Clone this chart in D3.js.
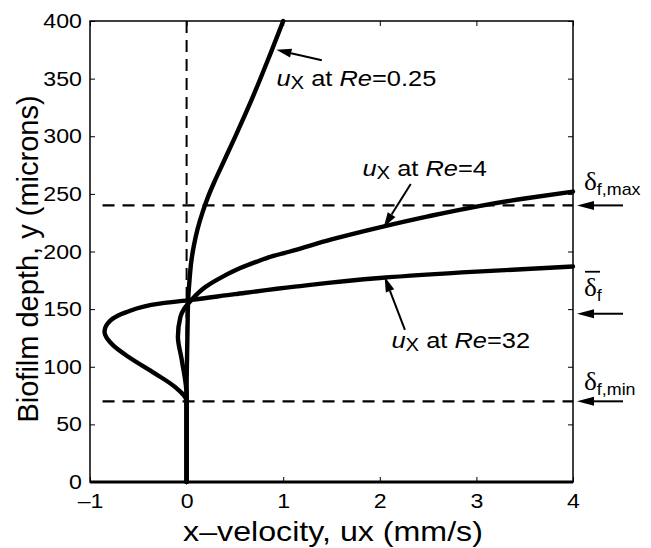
<!DOCTYPE html>
<html>
<head>
<meta charset="utf-8">
<script src="https://cdn.jsdelivr.net/npm/d3@7"></script>
<style>
  html, body { margin: 0; padding: 0; background: #fff; }
  svg { display: block; }
  text { font-family: "Liberation Sans", Arial, Helvetica, sans-serif; fill: #000; }
</style>
</head>
<body>
<svg id="chart" width="651" height="548"></svg>
<script>
// Velocity profiles through the biofilm: [x-velocity (mm/s), depth (microns)], ordered by depth
const profileRe025 = [[0,0],[0,40],[0,80],[0.005,110],[0.01,135],[0.015,156],[0.03,175],[0.048,191],[0.075,205],[0.115,220],[0.165,234],[0.22,247],[0.28,259],[0.34,270],[0.50,299],[0.68,333],[0.86,370],[1.0,400]];
const profileRe4 = [[0,0],[0,40],[0,75],[-0.05,106],[-0.09,126],[-0.065,143],[-0.02,151],[0.05,158],[0.2,169.5],[0.37,178],[0.55,185.4],[0.72,191],[0.89,196],[1.07,200],[1.5,210.5],[2.0,221],[2.5,230.5],[3.0,239],[3.5,246],[4.0,252]];
const profileRe32 = [[0,0],[0,40],[0,70],[-0.124,82.7],[-0.33,94.3],[-0.6,108.5],[-0.76,118.5],[-0.85,130.4],[-0.79,140],[-0.63,147.2],[-0.28,154.8],[0.05,158],[0.5,163],[1.12,169.5],[2,177],[3,182.5],[4,187]];

// Film thickness markers (microns)
const filmMax = 240, filmMean = 146, filmMin = 70;
const xTicks = [-1, 0, 1, 2, 3, 4];
const yTicks = [0, 50, 100, 150, 200, 250, 300, 350, 400];

// Curve annotations: label anchor and arrow (tail -> head) in data units
const curveNotes = [
  { re: "0.25", text: [0.93, 344], tail: [1.40, 366], head: [0.93, 375] },
  { re: "4",    text: [1.82, 265.5], tail: [2.32, 258.6], head: [2.04, 221] },
  { re: "32",   text: [2.12, 116], tail: [2.26, 132], head: [2.05, 178] }
];

const svg = d3.select("#chart");
const x = d3.scaleLinear().domain([-1, 4]).range([90, 573]);
const y = d3.scaleLinear().domain([0, 400]).range([482, 21]);
const wide = 1.13; // horizontal stretch of the lettering

// Frame
svg.append("rect")
  .attr("x", x(-1)).attr("y", y(400))
  .attr("width", x(4) - x(-1)).attr("height", y(0) - y(400))
  .attr("fill", "none").attr("stroke", "#000").attr("stroke-width", 1.5);
svg.append("line")
  .attr("x1", x(-1)).attr("x2", x(4)).attr("y1", y(0)).attr("y2", y(0))
  .attr("stroke", "#000").attr("stroke-width", 2.8);

// Axes with inward ticks
const tickLen = 5;
const gx = svg.append("g").attr("transform", `translate(0,${y(0)})`)
  .call(d3.axisBottom(x).tickValues(xTicks).tickSizeInner(-tickLen).tickSizeOuter(0).tickPadding(11)
    .tickFormat(d => d < 0 ? "\u2013" + Math.abs(d) : d));
const gxTop = svg.append("g").attr("transform", `translate(0,${y(400)})`)
  .call(d3.axisTop(x).tickValues(xTicks).tickSizeInner(-tickLen).tickSizeOuter(0).tickFormat(""));
const gy = svg.append("g").attr("transform", `translate(${x(-1)},0)`)
  .call(d3.axisLeft(y).tickValues(yTicks).tickSizeInner(-tickLen).tickSizeOuter(0).tickPadding(8));
const gyRight = svg.append("g").attr("transform", `translate(${x(4)},0)`)
  .call(d3.axisRight(y).tickValues(yTicks).tickSizeInner(-tickLen).tickSizeOuter(0).tickFormat(""));

[gx, gxTop, gy, gyRight].forEach(g => {
  g.select(".domain").remove();
  g.selectAll(".tick line").attr("stroke", "#000").attr("stroke-width", 1);
  g.selectAll(".tick text").attr("font-size", 20.5).attr("font-family", "\"Liberation Sans\", Arial, sans-serif");
});
gx.selectAll(".tick text").attr("transform", `scale(${wide},1)`);
gy.selectAll(".tick text").attr("x", -8 / wide).attr("transform", `scale(${wide},1)`);

// Axis titles
svg.append("text")
  .attr("transform", `translate(333,541) scale(${wide},1)`)
  .attr("text-anchor", "middle").attr("font-size", 28.5)
  .text("x\u2013velocity, ux (mm/s)");
svg.append("text")
  .attr("transform", "translate(38,259) rotate(-90)")
  .attr("text-anchor", "middle").attr("font-size", 29)
  .text("Biofilm depth, y (microns)");

// Dashed reference lines
svg.append("line")
  .attr("x1", x(0)).attr("x2", x(0)).attr("y1", y(400)).attr("y2", y(0))
  .attr("stroke", "#000").attr("stroke-width", 2).attr("stroke-dasharray", "12,7");
[filmMax, filmMin].forEach(v => {
  svg.append("line")
    .attr("x1", x(-0.87)).attr("x2", x(4)).attr("y1", y(v)).attr("y2", y(v))
    .attr("stroke", "#000").attr("stroke-width", 2.2).attr("stroke-dasharray", "12,8");
});

// Velocity profiles: x as a smooth function of depth
const line = d3.line().x(d => x(d[0])).y(d => y(d[1])).curve(d3.curveMonotoneY);
[profileRe025, profileRe4, profileRe32].forEach(p => {
  svg.append("path").datum(p).attr("d", line)
    .attr("fill", "none").attr("stroke", "#000").attr("stroke-width", 4.4)
    .attr("stroke-linejoin", "round").attr("stroke-linecap", "round");
});

// Arrow helper: shaft plus filled narrow triangular head
function arrow(x1, y1, x2, y2, headLen, headHalf) {
  const a = Math.atan2(y2 - y1, x2 - x1);
  const bx = x2 - headLen * Math.cos(a), by = y2 - headLen * Math.sin(a);
  svg.append("line").attr("x1", x1).attr("y1", y1).attr("x2", bx).attr("y2", by)
    .attr("stroke", "#000").attr("stroke-width", 2);
  const px = -Math.sin(a) * headHalf, py = Math.cos(a) * headHalf;
  svg.append("path")
    .attr("d", `M${x2},${y2}L${bx + px},${by + py}L${bx - px},${by - py}Z`)
    .attr("fill", "#000");
}

// Curve labels
curveNotes.forEach(n => {
  const t = svg.append("text")
    .attr("transform", `translate(${x(n.text[0])},${y(n.text[1])}) scale(${wide},1)`)
    .attr("font-size", 22.5);
  t.append("tspan").attr("font-style", "italic").text("u");
  t.append("tspan").attr("font-size", 18).attr("dy", 3).text("X");
  t.append("tspan").attr("dy", -3).text(" at ");
  t.append("tspan").attr("font-style", "italic").text("Re");
  t.append("tspan").text("=" + n.re);
  arrow(x(n.tail[0]), y(n.tail[1]), x(n.head[0]), y(n.head[1]), 15, 4.5);
});

// Film thickness markers outside the right edge
const right = x(4);
const deltaNotes = [
  { v: filmMax, sub: "f,max", bar: false, dyText: -15 },
  { v: filmMean, sub: "f", bar: true, dyText: -18 },
  { v: filmMin, sub: "f,min", bar: false, dyText: -11 }
];
deltaNotes.forEach(d => {
  const yy = y(d.v);
  arrow(right + 50, yy, right + 4, yy, 17, 4.5);
  const t = svg.append("text")
    .attr("transform", `translate(${right + 11},${yy + d.dyText}) scale(1.05,1)`)
    .attr("font-size", 26);
  t.append("tspan").attr("font-family", "\"Liberation Serif\", \"Times New Roman\", serif").text("\u03b4");
  t.append("tspan").attr("font-size", 17).attr("dy", 5).text(d.sub);
  if (d.bar) {
    svg.append("line")
      .attr("x1", right + 12).attr("x2", right + 27)
      .attr("y1", yy + d.dyText - 24).attr("y2", yy + d.dyText - 24)
      .attr("stroke", "#000").attr("stroke-width", 1.8);
  }
});
</script>
</body>
</html>
